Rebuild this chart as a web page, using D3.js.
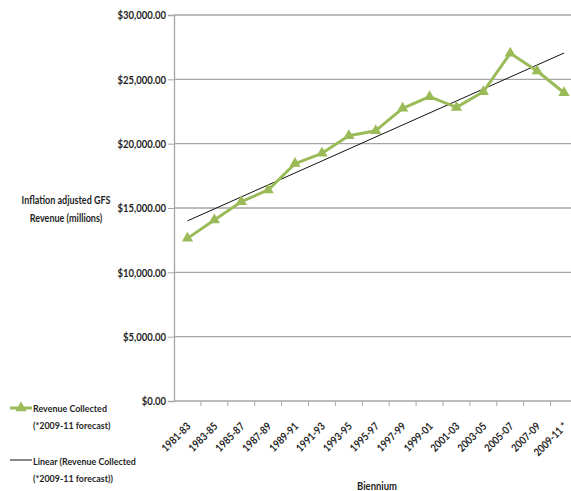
<!DOCTYPE html>
<html><head><meta charset="utf-8">
<script src="https://cdn.jsdelivr.net/npm/d3@7"></script>
<style>
html,body{margin:0;padding:0;background:#fff;}
svg{display:block;}
text{font-family:Lato,"Open Sans",sans-serif;fill:#1f1f1f;font-weight:bold;}
</style></head>
<body><svg id="chart" width="571" height="491"></svg>
<script>
const categories = ["1981-83","1983-85","1985-87","1987-89","1989-91","1991-93","1993-95","1995-97","1997-99","1999-01","2001-03","2003-05","2005-07","2007-09","2009-11 *"];
const revenue = [12640,14070,15490,16400,18450,19250,20620,21010,22750,23650,22820,24040,27020,25650,23960];
const yTicks = [0,5000,10000,15000,20000,25000,30000];
const seriesName = ["Revenue Collected","(*2009-11 forecast)"];
const trendName = ["Linear (Revenue Collected","(*2009-11 forecast))"];
const yTitle = ["Inflation adjusted GFS","Revenue (millions)"];
const xTitle = "Biennium";

(function(){
const svg = d3.select("#chart");
const mLeft = 174, mTop = 15, mBottom = 401, band = 26.9;
const mRight = mLeft + band * categories.length;
const sx = 0.87; // horizontal squeeze to mimic a narrow face

function fitSize(sample, target){
  const t = svg.append("text").style("font-size","10px").text(sample);
  const w = t.node().getComputedTextLength();
  t.remove();
  return 10 * (target / sx) / w;
}
const fsY = fitSize("$30,000.00", 48.5);
const fsX = fitSize("1981-83", 36);
const fsTitle = fitSize("Inflation adjusted GFS", 89);
const fsLeg = fitSize("Revenue Collected", 74);
const fsBi = fitSize("Biennium", 40);

function label(px, py, txt, fs, anchor){
  return svg.append("text")
    .attr("transform", `translate(${px},${py}) scale(${sx},1)`)
    .attr("text-anchor", anchor || "start")
    .style("font-size", fs+"px").text(txt);
}

const x = d3.scaleBand().domain(categories).range([mLeft, mRight]).padding(0);
const y = d3.scaleLinear().domain([0,30000]).range([mBottom, mTop]);
const cx = d => x(d) + x.bandwidth()/2;

// gridlines
svg.append("g").selectAll("line").data(yTicks.filter(t=>t>0)).join("line")
  .attr("x1", mLeft).attr("x2", mRight).attr("y1", d=>y(d)).attr("y2", d=>y(d))
  .attr("stroke", "#a6a6a6").attr("stroke-width", 1.3);

// y axis
const yAxis = d3.axisLeft(y).tickValues(yTicks).tickSize(6).tickPadding(0)
  .tickFormat(d => "$" + d3.format(",.2f")(d));
const gy = svg.append("g").attr("transform", `translate(${mLeft},0)`).call(yAxis);
gy.attr("font-family", null).attr("font-size", null);
gy.select(".domain").attr("stroke", "#a6a6a6").attr("stroke-width", 1.3);
gy.selectAll(".tick line").attr("stroke", "#a6a6a6");
gy.selectAll(".tick text").attr("x", null).attr("dy", null)
  .attr("transform", `translate(-8,0) scale(${sx},1)`).attr("dy","0.36em")
  .style("font-size", fsY+"px").attr("fill","#1f1f1f");

// x axis with ticks at band boundaries
const gx = svg.append("g").attr("transform", `translate(0,${mBottom})`);
gx.append("line").attr("x1", mLeft).attr("x2", mRight).attr("stroke","#a6a6a6").attr("stroke-width",1.3);
gx.selectAll("line.tk").data(categories).join("line").attr("class","tk")
  .attr("x1", d=>x(d)+x.bandwidth()).attr("x2", d=>x(d)+x.bandwidth())
  .attr("y1",0).attr("y2",5).attr("stroke","#a6a6a6");
gx.selectAll("text").data(categories).join("text")
  .attr("transform", d => `translate(${cx(d)+4},26) rotate(-45) scale(${sx},1)`)
  .attr("text-anchor","end")
  .style("font-size", fsX+"px")
  .text(d=>d);

// trend line (least squares)
const n = revenue.length;
const xm = d3.mean(revenue, (v,i)=>i), ym = d3.mean(revenue);
const slope = d3.sum(revenue, (v,i)=>(i-xm)*(v-ym)) / d3.sum(revenue, (v,i)=>(i-xm)*(i-xm));
const icpt = ym - slope*xm;
const trend = [0, n-1].map(i => ({c: categories[i], v: icpt + slope*i}));
svg.append("path").datum(trend)
  .attr("d", d3.line().x(d=>cx(d.c)).y(d=>y(d.v)))
  .attr("stroke","#111").attr("stroke-width",1).attr("fill","none");

// series line
const pts = categories.map((c,i)=>({c, v: revenue[i]}));
svg.append("path").datum(pts)
  .attr("d", d3.line().x(d=>cx(d.c)).y(d=>y(d.v)))
  .attr("stroke","#9bbb59").attr("stroke-width",3).attr("fill","none").attr("stroke-linejoin","round");
const tri = d3.symbol().type(d3.symbolTriangle).size(55);
svg.append("g").selectAll("path").data(pts).join("path")
  .attr("d", tri).attr("transform", d=>`translate(${cx(d.c)},${y(d.v)})`)
  .attr("fill","#9bbb59");

// y title
yTitle.forEach((t,i)=>label(66, 204+i*18, t, fsTitle, "middle"));

// x title
label(377, 489.5, xTitle, fsBi, "middle");

// legend
svg.append("line").attr("x1",10).attr("x2",32).attr("y1",408).attr("y2",408)
  .attr("stroke","#9bbb59").attr("stroke-width",3);
svg.append("path").attr("d", tri).attr("transform","translate(21,408)").attr("fill","#9bbb59");
seriesName.forEach((t,i)=>label(33, 411.5+i*17.5, t, fsLeg));
svg.append("line").attr("x1",10).attr("x2",32).attr("y1",460).attr("y2",460)
  .attr("stroke","#111").attr("stroke-width",1);
trendName.forEach((t,i)=>label(33, 464.5+i*17.5, t, fsLeg));
})();
</script></body></html>
